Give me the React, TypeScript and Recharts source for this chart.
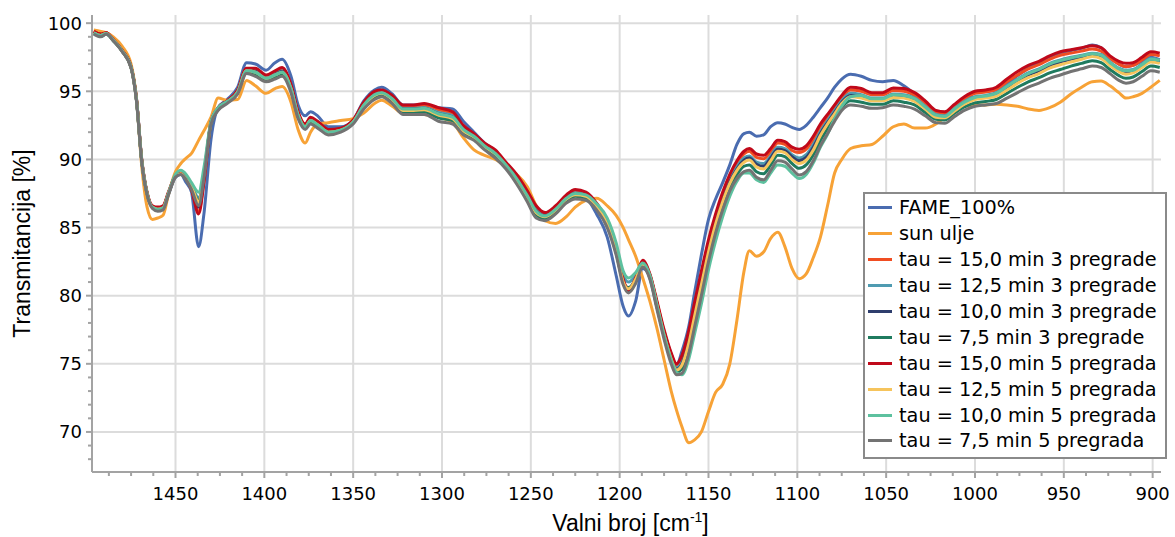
import React from 'react';
import { LineChart, Line, XAxis, YAxis, CartesianGrid, Legend, Label } from 'recharts';

const FONT = '"DejaVu Sans", Verdana, sans-serif';
const TITLE_FONT = '"Liberation Sans", Arial, sans-serif';

const wavenumbers = [
  1496, 1492, 1489, 1485, 1480, 1475, 1472, 1469, 1466, 1463,
  1460, 1457, 1454, 1450, 1447, 1444, 1441, 1437, 1434, 1430,
  1426, 1421, 1415, 1410, 1405, 1399, 1394, 1390, 1385, 1381,
  1377, 1374, 1370, 1364, 1357, 1350, 1344, 1338, 1334, 1328,
  1322, 1316, 1310, 1302, 1294, 1288, 1282, 1276, 1270, 1264,
  1258, 1252, 1247, 1242, 1236, 1230, 1225, 1219, 1213, 1207,
  1202, 1198, 1195, 1191, 1187, 1183, 1179, 1175, 1171, 1168,
  1165, 1161, 1158, 1154, 1150, 1146, 1142, 1138, 1134, 1130,
  1127, 1123, 1119, 1115, 1111, 1107, 1103, 1099, 1095, 1091,
  1087, 1083, 1079, 1075, 1070, 1064, 1058, 1052, 1046, 1040,
  1034, 1028, 1022, 1017, 1012, 1006, 1000, 994, 988, 982,
  976, 970, 964, 958, 952, 946, 940, 934, 929, 924,
  919, 915, 911, 906, 901, 896,
];

const fame100 = [
  99.4, 99.2, 99.3, 98.8, 98.0, 96.8, 94.5, 89.9, 87.5, 86.5,
  86.3, 86.4, 87.4, 88.7, 88.9, 88.3, 87.6, 83.6, 86.0, 91.5,
  93.8, 94.4, 95.3, 97.1, 97.0, 96.55, 97.1, 97.35, 96.1, 94.0,
  93.2, 93.5, 93.2, 92.4, 92.4, 92.9, 94.3, 95.1, 95.3, 94.8,
  94.0, 94.0, 94.0, 93.8, 93.7, 92.8, 92.0, 91.2, 90.6, 89.7,
  88.7, 87.4, 86.3, 85.9, 86.4, 87.1, 87.5, 87.2, 86.0, 84.3,
  81.5, 79.2, 78.5, 79.6, 82.0, 81.4, 79.2, 77.3, 75.7, 74.9,
  75.9, 77.8, 80.1, 83.0, 85.6, 87.1, 88.3, 89.6, 91.1, 91.9,
  92.0, 91.7, 91.8, 92.4, 92.7, 92.6, 92.35, 92.2, 92.5, 93.1,
  93.8, 94.5, 95.3, 95.9, 96.25, 96.1, 95.8, 95.7, 95.8, 95.4,
  94.8, 94.2, 93.55, 93.45, 93.55, 94.2, 94.9, 95.0, 95.15, 95.6,
  96.15, 96.7, 97.1, 97.55, 97.8, 98.0, 98.15, 98.4, 98.2, 97.5,
  97.0, 96.8, 96.9, 97.2, 97.5, 97.3,
];

const sunUlje = [
  99.5, 99.4, 99.3, 99.0, 98.3, 97.0, 94.5, 89.5, 86.5, 85.6,
  85.7, 85.9, 87.4, 89.1, 89.7, 90.1, 90.45, 91.4, 92.1, 93.1,
  94.5, 94.35, 94.4, 95.8, 95.4, 94.85, 95.2, 95.35, 94.2, 92.2,
  91.2, 92.0, 92.6, 92.7, 92.85, 93.0, 93.4, 94.1, 94.35, 93.9,
  93.4, 93.4, 93.3, 93.1, 92.7, 91.6, 90.7, 90.3, 90.0, 89.5,
  88.9, 88.0, 86.6, 85.5, 85.3, 85.8, 86.5, 87.0, 87.15, 86.6,
  85.9, 85.0, 84.1, 82.9, 81.3, 79.6, 77.6, 75.3, 73.0, 71.6,
  70.4, 69.2, 69.4, 70.0, 71.5, 72.9, 73.5, 75.0, 78.2, 81.8,
  83.3, 82.9, 83.2, 84.2, 84.65, 83.6, 82.0, 81.25, 81.6, 82.8,
  84.3, 86.6, 89.0, 90.0, 90.8, 91.0, 91.1, 91.7, 92.4, 92.6,
  92.3, 92.3, 92.6, 93.1, 93.6, 93.9, 94.0, 94.0, 94.05, 94.0,
  93.9, 93.7, 93.6, 93.8, 94.2, 94.8, 95.3, 95.7, 95.75, 95.4,
  94.9, 94.5, 94.6, 94.85, 95.3, 95.8,
];

const tau150_3 = [
  99.4, 99.2, 99.3, 98.8, 97.95, 96.75, 94.4, 89.9, 87.5, 86.5,
  86.45, 86.55, 87.5, 88.75, 88.95, 88.55, 87.8, 86.2, 88.4, 92.75,
  93.75, 94.25, 95.05, 96.65, 96.6, 96.1, 96.4, 96.65, 95.4, 93.4,
  92.55, 93.0, 92.7, 92.15, 92.25, 92.85, 94.1, 94.9, 95.0, 94.6,
  93.9, 93.9, 94.0, 93.65, 93.35, 92.4, 91.8, 91.1, 90.6, 89.7,
  88.8, 87.6, 86.45, 86.0, 86.5, 87.3, 87.7, 87.5, 86.7, 85.4,
  83.4, 81.1, 80.4, 81.2, 82.5, 81.55, 79.5, 77.4, 75.7, 74.85,
  75.4, 77.25, 79.15, 81.55, 83.85, 85.8, 87.4, 88.7, 89.7, 90.4,
  90.6, 90.15, 90.05, 90.55, 91.2, 91.1, 90.65, 90.5, 90.75, 91.45,
  92.4, 93.1, 93.8, 94.55, 95.1, 95.0, 94.75, 94.75, 95.05, 95.0,
  94.7, 94.15, 93.45, 93.35, 93.85, 94.45, 94.85, 94.95, 95.1, 95.7,
  96.2, 96.65, 96.95, 97.35, 97.65, 97.8, 97.95, 98.1, 97.95, 97.4,
  97.0, 96.8, 96.9, 97.3, 97.7, 97.6,
];

const tau125_3 = [
  99.3, 99.1, 99.25, 98.75, 97.95, 96.75, 94.4, 89.9, 87.5, 86.5,
  86.4, 86.5, 87.5, 88.75, 88.95, 88.6, 88.1, 87.2, 89.0, 92.75,
  93.75, 94.2, 95.0, 96.55, 96.5, 96.0, 96.3, 96.5, 95.3, 93.3,
  92.45, 92.9, 92.6, 92.05, 92.2, 92.8, 94.0, 94.8, 94.9, 94.5,
  93.75, 93.75, 93.8, 93.45, 93.2, 92.25, 91.7, 91.0, 90.5, 89.6,
  88.65, 87.4, 86.3, 85.9, 86.4, 87.2, 87.55, 87.4, 86.65, 85.4,
  83.5, 81.5, 81.0, 81.5, 82.4, 81.5, 79.4, 77.25, 75.5, 74.7,
  75.15, 76.9, 78.8, 81.2, 83.55, 85.5, 87.15, 88.5, 89.45, 90.1,
  90.25, 89.8, 89.7, 90.25, 90.9, 90.8, 90.35, 90.1, 90.35, 91.1,
  92.05, 92.85, 93.6, 94.3, 94.85, 94.75, 94.5, 94.5, 94.8, 94.75,
  94.5, 93.9, 93.3, 93.2, 93.7, 94.25, 94.6, 94.7, 94.9, 95.4,
  95.9, 96.35, 96.65, 97.05, 97.3, 97.5, 97.65, 97.8, 97.7, 97.15,
  96.7, 96.55, 96.6, 97.0, 97.4, 97.3,
];

const tau100_3 = [
  99.3, 99.1, 99.25, 98.75, 97.95, 96.75, 94.4, 89.9, 87.5, 86.5,
  86.35, 86.45, 87.5, 88.75, 88.95, 88.55, 87.9, 86.5, 88.7, 92.7,
  93.7, 94.2, 94.95, 96.5, 96.45, 95.95, 96.25, 96.45, 95.25, 93.3,
  92.4, 92.85, 92.55, 92.0, 92.15, 92.75, 93.95, 94.75, 94.9, 94.45,
  93.7, 93.7, 93.75, 93.35, 93.1, 92.2, 91.7, 91.0, 90.45, 89.6,
  88.6, 87.35, 86.2, 85.85, 86.35, 87.15, 87.5, 87.35, 86.6, 85.3,
  83.3, 81.0, 80.35, 81.1, 82.35, 81.4, 79.35, 77.2, 75.45, 74.6,
  75.0, 76.75, 78.6, 81.0, 83.4, 85.35, 87.0, 88.35, 89.3, 89.95,
  90.1, 89.65, 89.5, 90.1, 90.75, 90.65, 90.2, 89.9, 90.15, 90.9,
  91.9, 92.7, 93.45, 94.2, 94.7, 94.6, 94.4, 94.4, 94.7, 94.6,
  94.35, 93.8, 93.2, 93.1, 93.6, 94.15, 94.5, 94.6, 94.75, 95.25,
  95.75, 96.2, 96.5, 96.85, 97.15, 97.35, 97.5, 97.7, 97.55, 97.0,
  96.55, 96.4, 96.45, 96.85, 97.25, 97.15,
];

const tau75_3 = [
  99.25, 99.05, 99.2, 98.7, 97.95, 96.75, 94.4, 89.9, 87.5, 86.5,
  86.3, 86.4, 87.5, 88.75, 88.95, 88.55, 88.0, 87.0, 88.9, 92.65,
  93.65, 94.15, 94.9, 96.4, 96.25, 95.8, 96.05, 96.25, 95.05, 93.1,
  92.3, 92.7, 92.4, 91.9, 92.1, 92.7, 93.8, 94.55, 94.7, 94.25,
  93.5, 93.5, 93.5, 93.05, 92.85, 92.0, 91.5, 90.8, 90.25, 89.4,
  88.4, 87.1, 85.95, 85.65, 86.15, 86.95, 87.3, 87.15, 86.45, 85.15,
  83.15, 81.0, 80.6, 81.2, 82.2, 81.3, 79.15, 77.0, 75.2, 74.4,
  74.6, 76.2, 78.05, 80.45, 82.9, 84.95, 86.6, 88.0, 88.9, 89.5,
  89.6, 89.1, 88.95, 89.6, 90.3, 90.2, 89.7, 89.35, 89.6, 90.35,
  91.4, 92.25, 93.1, 93.85, 94.3, 94.2, 94.05, 94.05, 94.3, 94.2,
  94.0, 93.45, 92.95, 92.9, 93.35, 93.85, 94.15, 94.25, 94.4, 94.85,
  95.3, 95.7, 96.0, 96.35, 96.6, 96.85, 97.05, 97.25, 97.1, 96.6,
  96.15, 95.95, 96.05, 96.45, 96.85, 96.75,
];

const tau150_5 = [
  99.4, 99.2, 99.3, 98.8, 98.0, 96.8, 94.5, 90.0, 87.6, 86.6,
  86.5, 86.6, 87.6, 88.8, 89.0, 88.6, 87.8, 86.0, 88.3, 92.8,
  93.8, 94.3, 95.1, 96.7, 96.7, 96.2, 96.5, 96.75, 95.5, 93.5,
  92.6, 93.1, 92.8, 92.2, 92.3, 92.9, 94.2, 95.0, 95.1, 94.7,
  94.0, 94.0, 94.1, 93.8, 93.5, 92.5, 91.9, 91.2, 90.7, 89.8,
  88.9, 87.7, 86.6, 86.1, 86.6, 87.4, 87.8, 87.6, 86.8, 85.5,
  83.5, 81.2, 80.4, 81.3, 82.6, 81.6, 79.6, 77.5, 75.8, 75.0,
  75.6, 77.5, 79.4, 81.8, 84.1, 86.0, 87.6, 88.9, 89.9, 90.6,
  90.8, 90.4, 90.3, 90.8, 91.4, 91.3, 90.9, 90.75, 91.0, 91.7,
  92.6, 93.3, 94.0, 94.7, 95.3, 95.2, 94.9, 94.9, 95.25, 95.2,
  94.9, 94.3, 93.6, 93.5, 94.0, 94.6, 95.0, 95.1, 95.3, 95.9,
  96.45, 96.9, 97.2, 97.6, 97.9, 98.05, 98.2, 98.35, 98.2, 97.6,
  97.2, 97.05, 97.1, 97.5, 97.9, 97.8,
];

const tau125_5 = [
  99.3, 99.1, 99.25, 98.75, 97.95, 96.75, 94.4, 89.9, 87.5, 86.5,
  86.35, 86.45, 87.5, 88.75, 88.95, 88.55, 88.0, 86.9, 88.9, 92.7,
  93.7, 94.2, 94.95, 96.5, 96.4, 95.95, 96.2, 96.4, 95.2, 93.25,
  92.4, 92.85, 92.55, 92.0, 92.15, 92.75, 93.95, 94.7, 94.85, 94.4,
  93.6, 93.6, 93.65, 93.25, 93.0, 92.1, 91.65, 90.95, 90.4, 89.55,
  88.5, 87.25, 86.1, 85.8, 86.3, 87.1, 87.4, 87.3, 86.55, 85.3,
  83.25, 81.0, 80.5, 81.2, 82.3, 81.4, 79.3, 77.1, 75.35, 74.55,
  74.9, 76.55, 78.4, 80.8, 83.2, 85.25, 86.9, 88.25, 89.2, 89.8,
  89.95, 89.45, 89.3, 89.9, 90.6, 90.5, 90.0, 89.7, 89.95, 90.7,
  91.75, 92.6, 93.35, 94.1, 94.6, 94.5, 94.3, 94.3, 94.55, 94.5,
  94.25, 93.7, 93.1, 93.05, 93.5, 94.05, 94.4, 94.5, 94.65, 95.1,
  95.6, 96.0, 96.3, 96.7, 96.95, 97.15, 97.35, 97.55, 97.4, 96.9,
  96.45, 96.25, 96.35, 96.75, 97.15, 97.05,
];

const tau100_5 = [
  99.3, 99.1, 99.25, 98.75, 97.95, 96.75, 94.4, 89.9, 87.5, 86.5,
  86.35, 86.45, 87.5, 88.9, 89.2, 88.9, 88.3, 87.6, 89.4, 92.8,
  93.8, 94.25, 94.95, 96.5, 96.4, 95.95, 96.2, 96.4, 95.2, 93.25,
  92.4, 92.85, 92.55, 92.0, 92.15, 92.75, 94.0, 94.75, 94.9, 94.45,
  93.7, 93.7, 93.75, 93.35, 93.1, 92.2, 91.7, 91.0, 90.45, 89.6,
  88.6, 87.35, 86.2, 85.85, 86.35, 87.15, 87.5, 87.4, 86.75, 85.7,
  83.9, 81.8, 81.3, 81.7, 82.4, 81.5, 79.3, 77.1, 75.3, 74.35,
  74.2, 75.4, 77.1, 79.4, 81.9, 84.0, 85.8, 87.3, 88.4, 89.0,
  89.0, 88.5, 88.3, 89.0, 89.6, 89.5, 89.0, 88.6, 88.9, 89.75,
  90.9, 91.85, 93.0, 93.9, 94.6, 94.7, 94.45, 94.45, 94.75, 94.7,
  94.45, 93.85, 93.25, 93.15, 93.65, 94.2, 94.55, 94.65, 94.85, 95.35,
  95.85, 96.3, 96.6, 97.0, 97.25, 97.45, 97.6, 97.75, 97.65, 97.1,
  96.65, 96.5, 96.55, 96.95, 97.35, 97.25,
];

const tau75_5 = [
  99.2, 99.0, 99.2, 98.7, 97.9, 96.7, 94.3, 89.8, 87.4, 86.4,
  86.2, 86.3, 87.4, 88.7, 88.9, 88.5, 87.8, 86.6, 88.6, 92.6,
  93.6, 94.1, 94.8, 96.3, 96.1, 95.7, 95.9, 96.1, 94.9, 93.0,
  92.2, 92.6, 92.3, 91.8, 92.0, 92.6, 93.7, 94.4, 94.6, 94.1,
  93.3, 93.3, 93.3, 92.8, 92.6, 91.8, 91.4, 90.7, 90.1, 89.3,
  88.2, 86.9, 85.7, 85.5, 86.0, 86.8, 87.1, 87.0, 86.3, 85.0,
  83.0, 80.8, 80.2, 80.9, 82.1, 81.2, 79.0, 76.8, 75.0, 74.2,
  74.3, 75.8, 77.6, 80.0, 82.5, 84.6, 86.3, 87.7, 88.6, 89.1,
  89.2, 88.7, 88.5, 89.2, 89.9, 89.8, 89.3, 88.85, 89.1, 89.9,
  91.0, 91.9, 92.8, 93.6, 94.0, 93.9, 93.75, 93.8, 94.0, 93.9,
  93.7, 93.2, 92.7, 92.65, 93.1, 93.6, 93.9, 94.0, 94.1, 94.5,
  94.9, 95.3, 95.6, 95.95, 96.2, 96.45, 96.65, 96.85, 96.75, 96.3,
  95.8, 95.6, 95.7, 96.1, 96.5, 96.4,
];

const majorXTicks = [1450, 1400, 1350, 1300, 1250, 1200, 1150, 1100, 1050, 1000, 950, 900];
const allXTicks = [
  1487.5, 1475, 1462.5, 1450, 1437.5, 1425, 1412.5, 1400, 1387.5, 1375, 1362.5, 1350,
  1337.5, 1325, 1312.5, 1300, 1287.5, 1275, 1262.5, 1250, 1237.5, 1225, 1212.5, 1200,
  1187.5, 1175, 1162.5, 1150, 1137.5, 1125, 1112.5, 1100, 1087.5, 1075, 1062.5, 1050,
  1037.5, 1025, 1012.5, 1000, 987.5, 975, 962.5, 950, 937.5, 925, 912.5, 900,
];
const majorYTicks = [70, 75, 80, 85, 90, 95, 100];
const allYTicks = [
  68, 69, 70, 71, 72, 73, 74, 75, 76, 77, 78, 79, 80, 81, 82, 83, 84,
  85, 86, 87, 88, 89, 90, 91, 92, 93, 94, 95, 96, 97, 98, 99, 100,
];

const series = [
  { key: 'fame', name: 'FAME_100%', color: '#4a6cb0', values: fame100 },
  { key: 'sun', name: 'sun ulje', color: '#f7a236', values: sunUlje },
  { key: 't150_3', name: 'tau = 15,0 min 3 pregrade', color: '#f04d22', values: tau150_3 },
  { key: 't125_3', name: 'tau = 12,5 min 3 pregrade', color: '#4f9bb1', values: tau125_3 },
  { key: 't100_3', name: 'tau = 10,0 min 3 pregrade', color: '#2e3e6d', values: tau100_3 },
  { key: 't75_3', name: 'tau = 7,5 min 3 pregrade', color: '#1f7b5f', values: tau75_3 },
  { key: 't150_5', name: 'tau = 15,0 min 5 pregrada', color: '#c0091a', values: tau150_5 },
  { key: 't125_5', name: 'tau = 12,5 min 5 pregrada', color: '#f6c45c', values: tau125_5 },
  { key: 't100_5', name: 'tau = 10,0 min 5 pregrada', color: '#5dc19f', values: tau100_5 },
  { key: 't75_5', name: 'tau = 7,5 min 5 pregrada', color: '#737373', values: tau75_5 },
];

const data = wavenumbers.map((w, i) => {
  const row: Record<string, number> = { w };
  series.forEach((s) => {
    row[s.key] = s.values[i];
  });
  return row;
});

const AXIS_COLOR = '#a3a3a3';

const XTick = (props: any) => {
  const { x, y, payload } = props;
  const major = majorXTicks.includes(payload.value);
  return (
    <g>
      <line x1={x} x2={x} y1={y} y2={y + (major ? 6 : 4)} stroke={AXIS_COLOR} strokeWidth={2} />
      {major && (
        <text x={x} y={y + 28} textAnchor="middle" fontFamily={FONT} fontSize={18} fill="#000">
          {payload.value}
        </text>
      )}
    </g>
  );
};

const YTick = (props: any) => {
  const { x, y, payload } = props;
  const major = majorYTicks.includes(payload.value);
  return (
    <g>
      <line x1={x - (major ? 6 : 4)} x2={x} y1={y} y2={y} stroke={AXIS_COLOR} strokeWidth={2} />
      {major && (
        <text x={x - 10} y={y + 6.5} textAnchor="end" fontFamily={FONT} fontSize={18} fill="#000">
          {payload.value}
        </text>
      )}
    </g>
  );
};

const renderLegend = () => (
  <div
    style={{
      border: '2px solid #8a8a8a',
      background: '#fff',
      boxSizing: 'border-box',
      width: 304,
      height: 267,
      paddingTop: 1,
    }}
  >
    {series.map((s) => (
      <div key={s.key} style={{ display: 'flex', alignItems: 'center', height: 25.9 }}>
        <span
          style={{
            display: 'inline-block',
            width: 24,
            height: 3,
            background: s.color,
            marginLeft: 3,
            marginRight: 7,
            flex: 'none',
          }}
        />
        <span style={{ fontFamily: FONT, fontSize: 19.3, color: '#000', whiteSpace: 'nowrap', lineHeight: '21px' }}>
          {s.name}
        </span>
      </div>
    ))}
  </div>
);

const YTitle = (props: any) => {
  const vb = props.viewBox || {};
  const cx = 22;
  const cy = vb.y + vb.height / 2;
  return (
    <text
      x={cx}
      y={cy}
      transform={`rotate(-90 ${cx} ${cy})`}
      textAnchor="middle"
      dominantBaseline="central"
      fontFamily={TITLE_FONT}
      fontSize={23}
      fill="#000"
    >
      Transmitancija [%]
    </text>
  );
};

const XTitle = (props: any) => {
  const vb = props.viewBox || {};
  const cx = vb.x + vb.width / 2 + 4;
  const cy = vb.y + 59;
  return (
    <text x={cx} y={cy} textAnchor="middle" fontFamily={TITLE_FONT} fontSize={23} fill="#000">
      Valni broj [cm
      <tspan dy={-9} fontSize={14}>-1</tspan>
      <tspan dy={9}>]</tspan>
    </text>
  );
};

export default function App() {
  return (
    <div style={{ position: 'absolute', left: 0, top: 0, width: 1175, height: 537, background: '#fff' }}>
      <LineChart width={1175} height={537} data={data} margin={{ top: 15, right: 14, left: 0, bottom: 0 }}>
        <CartesianGrid
          stroke="#dcdcdc"
          strokeWidth={2}
          verticalValues={majorXTicks}
          horizontalValues={majorYTicks}
        />
        <XAxis
          dataKey="w"
          type="number"
          domain={[895.3, 1497]}
          reversed
          allowDataOverflow
          ticks={allXTicks}
          interval={0}
          tick={<XTick />}
          tickLine={false}
          tickSize={0}
          tickMargin={0}
          height={65}
          axisLine={{ stroke: AXIS_COLOR, strokeWidth: 2 }}
        >
          <Label content={<XTitle />} />
        </XAxis>
        <YAxis
          type="number"
          domain={[67.06, 100.6]}
          allowDataOverflow
          ticks={allYTicks}
          interval={0}
          tick={<YTick />}
          tickLine={false}
          tickSize={0}
          tickMargin={0}
          width={92}
          axisLine={{ stroke: AXIS_COLOR, strokeWidth: 2 }}
        >
          <Label content={<YTitle />} />
        </YAxis>
        <Legend
          layout="vertical"
          align="center"
          verticalAlign="middle"
          content={renderLegend}
          wrapperStyle={{ position: 'absolute', left: 863, top: 192, width: 304, height: 267 }}
        />
        {series.map((s) => (
          <Line
            key={s.key}
            type="monotone"
            dataKey={s.key}
            name={s.name}
            stroke={s.color}
            strokeWidth={3}
            dot={false}
            activeDot={false}
            isAnimationActive={false}
          />
        ))}
      </LineChart>
    </div>
  );
}
